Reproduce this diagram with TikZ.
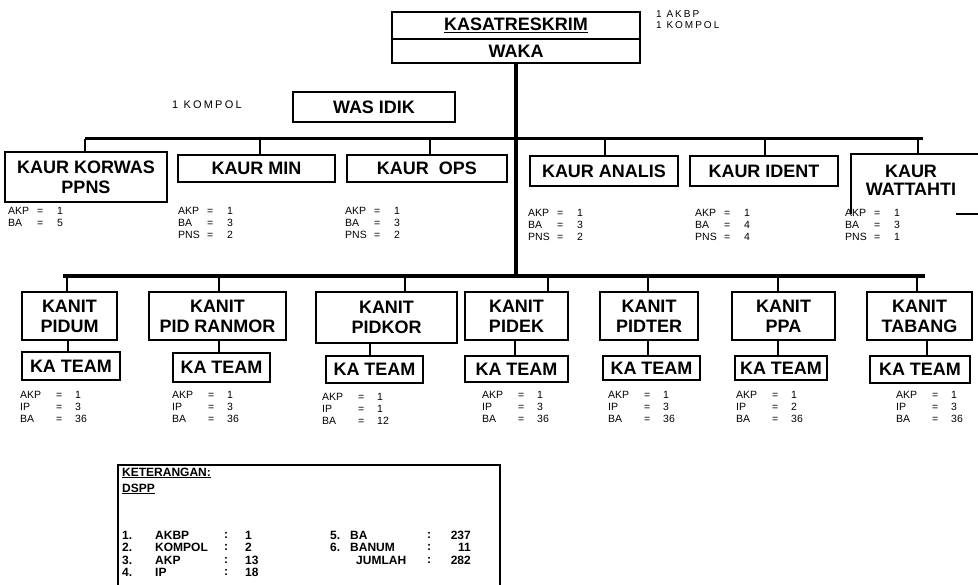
\documentclass[tikz,border=0pt]{standalone}
\usepackage{fontspec}
\setmainfont{Liberation Sans}
\newfontfamily\spaced[LetterSpace=20]{Liberation Sans}
\newcommand{\srow}[2]{\makebox[29pt][l]{#1}\makebox[20pt][l]{=}#2}
\newcommand{\brow}[2]{\makebox[36pt][l]{#1}\makebox[19pt][l]{=}#2}
\begin{document}
\begin{tikzpicture}[x=1pt,y=-1pt,
  box/.style={draw, line width=1.6pt, font=\fontsize{18}{20}\selectfont\bfseries, align=center, inner sep=0pt},
  thickbox/.style={box, line width=2.4pt},
  kt/.style={box, line width=2pt},
  staff/.style={anchor=north west, font=\fontsize{10.5}{12}\selectfont, align=left, inner sep=0pt},
  note/.style={anchor=west, font=\fontsize{11}{11}\selectfont\spaced, align=left, inner sep=0pt},
  leg/.style={anchor=west, font=\fontsize{12}{12}\selectfont\bfseries, inner sep=0pt},
  link/.style={line width=1.6pt},
  bar/.style={line width=3pt},
  mainbar/.style={line width=4pt}]
\useasboundingbox (0,0) rectangle (978,585);

% top
\node[box, minimum width=248pt, minimum height=27pt] (kasat) at (516,25.5) {\underline{KASATRESKRIM}};
\node[box, minimum width=248pt, minimum height=24pt] (waka) at (516,51) {WAKA};
\node[note, align=left, font=\fontsize{10}{11}\selectfont\spaced] (topnote) at (656,20) {1 AKBP\\1 KOMPOL};

\node[note] (kompol) at (172,105) {1 KOMPOL};
\node[box, minimum width=162pt, minimum height=30pt] (wasidik) at (374,107) {WAS IDIK};

% bars
\coordinate (ubL) at (85,139);
\coordinate (ubR) at (923,139);
\coordinate (lbL) at (63,276);
\coordinate (lbR) at (925,276);
\draw[mainbar] (waka.south) -- (waka.south |- lbL);
\draw[bar] (ubL) -- (ubR);
\draw[mainbar] (lbL) -- (lbR);

% KAUR row
\node[thickbox, minimum width=162pt, minimum height=50pt] (korwas) at (86,177) {KAUR KORWAS\\PPNS};
\node[box, minimum width=157pt, minimum height=27pt] (min) at (256.5,168.5) {KAUR MIN};
\node[box, minimum width=160pt, minimum height=27pt] (ops) at (427,168.5) {KAUR\ \ OPS};
\node[box, minimum width=148pt, minimum height=30pt] (analis) at (604,171) {KAUR ANALIS};
\node[box, minimum width=148pt, minimum height=30pt] (ident) at (764,171) {KAUR IDENT};
\node[box, draw=none, minimum width=118pt, minimum height=50pt, font=\fontsize{18}{18}\selectfont\bfseries] (watt) at (911,180) {KAUR\\WATTAHTI};
\draw[link] ([yshift=-8pt]watt.south west) -- (watt.north west) -- ++(130,0);
\draw[link] ([xshift=-15pt,yshift=-8pt]watt.south east) -- ++(25,0);

\draw[link] ([xshift=-1pt]korwas.north) -- ([xshift=-1pt]korwas.north |- ubL);
\draw[link] ([xshift=3.5pt]min.north) -- ([xshift=3.5pt]min.north |- ubL);
\draw[link] ([xshift=3pt]ops.north) -- ([xshift=3pt]ops.north |- ubL);
\draw[link] ([xshift=1pt]analis.north) -- ([xshift=1pt]analis.north |- ubL);
\draw[link] ([xshift=1pt]ident.north) -- ([xshift=1pt]ident.north |- ubL);
\draw[link] ([xshift=7pt]watt.north) -- ([xshift=7pt]watt.north |- ubR);

\node[staff] (s1) at (8,207) {\srow{AKP}{1}\\\srow{BA}{5}};
\node[staff] (s2) at (178,207) {\srow{AKP}{1}\\\srow{BA}{3}\\\srow{PNS}{2}};
\node[staff] (s3) at (345,207) {\srow{AKP}{1}\\\srow{BA}{3}\\\srow{PNS}{2}};
\node[staff] (s4) at (528,209) {\srow{AKP}{1}\\\srow{BA}{3}\\\srow{PNS}{2}};
\node[staff] (s5) at (695,209) {\srow{AKP}{1}\\\srow{BA}{4}\\\srow{PNS}{4}};
\node[staff] (s6) at (845,209) {\srow{AKP}{1}\\\srow{BA}{3}\\\srow{PNS}{1}};

% KANIT row
\node[box, minimum width=95pt, minimum height=48pt] (pidum) at (69.5,316) {KANIT\\PIDUM};
\node[box, minimum width=137pt, minimum height=48pt] (pidran) at (217.5,316) {KANIT\\PID RANMOR};
\node[box, minimum width=141pt, minimum height=51pt] (pidkor) at (386.5,317.5) {KANIT\\PIDKOR};
\node[box, minimum width=103pt, minimum height=48pt] (pidek) at (516.5,316) {KANIT\\PIDEK};
\node[box, minimum width=98pt, minimum height=48pt] (pidter) at (649,316) {KANIT\\PIDTER};
\node[box, minimum width=103pt, minimum height=48pt] (ppa) at (783.5,316) {KANIT\\PPA};
\node[box, minimum width=105pt, minimum height=48pt] (tabang) at (919.5,316) {KANIT\\TABANG};

\draw[link] ([xshift=-2.5pt]pidum.north) -- ([xshift=-2.5pt]pidum.north |- lbL);
\draw[link] ([xshift=1.5pt]pidran.north) -- ([xshift=1.5pt]pidran.north |- lbL);
\draw[link] ([xshift=18.5pt]pidkor.north) -- ([xshift=18.5pt]pidkor.north |- lbL);
\draw[link] ([xshift=31.5pt]pidek.north) -- ([xshift=31.5pt]pidek.north |- lbL);
\draw[link] ([xshift=-1pt]pidter.north) -- ([xshift=-1pt]pidter.north |- lbL);
\draw[link] ([xshift=-5.5pt]ppa.north) -- ([xshift=-5.5pt]ppa.north |- lbL);
\draw[link] ([xshift=-2.5pt]tabang.north) -- ([xshift=-2.5pt]tabang.north |- lbL);

% KA TEAM row
\node[kt, minimum width=98pt, minimum height=28pt] (kt1) at (71,366) {KA TEAM};
\node[kt, minimum width=97pt, minimum height=29pt] (kt2) at (221.5,367.5) {KA TEAM};
\node[kt, minimum width=97pt, minimum height=27pt] (kt3) at (374.5,369.5) {KA TEAM};
\node[kt, minimum width=103pt, minimum height=26pt] (kt4) at (516.5,369) {KA TEAM};
\node[kt, minimum width=97pt, minimum height=24pt] (kt5) at (651.5,368) {KA TEAM};
\node[kt, minimum width=92pt, minimum height=24pt] (kt6) at (781,368) {KA TEAM};
\node[kt, minimum width=100pt, minimum height=27pt] (kt7) at (920,369.5) {KA TEAM};

\draw[link] ([xshift=-3pt]kt1.north) -- ([xshift=-3pt]kt1.north |- pidum.south);
\draw[link] ([xshift=-2.5pt]kt2.north) -- ([xshift=-2.5pt]kt2.north |- pidran.south);
\draw[link] ([xshift=-4.5pt]kt3.north) -- ([xshift=-4.5pt]kt3.north |- pidkor.south);
\draw[link] ([xshift=-1.5pt]kt4.north) -- ([xshift=-1.5pt]kt4.north |- pidek.south);
\draw[link] ([xshift=-3.5pt]kt5.north) -- ([xshift=-3.5pt]kt5.north |- pidter.south);
\draw[link] ([xshift=-3pt]kt6.north) -- ([xshift=-3pt]kt6.north |- ppa.south);
\draw[link] ([xshift=7pt]kt7.north) -- ([xshift=7pt]kt7.north |- tabang.south);

\node[staff] (b1) at (20,391) {\brow{AKP}{1}\\\brow{IP}{3}\\\brow{BA}{36}};
\node[staff] (b2) at (172,391) {\brow{AKP}{1}\\\brow{IP}{3}\\\brow{BA}{36}};
\node[staff] (b3) at (322,393) {\brow{AKP}{1}\\\brow{IP}{1}\\\brow{BA}{12}};
\node[staff] (b4) at (482,391) {\brow{AKP}{1}\\\brow{IP}{3}\\\brow{BA}{36}};
\node[staff] (b5) at (608,391) {\brow{AKP}{1}\\\brow{IP}{3}\\\brow{BA}{36}};
\node[staff] (b6) at (736,391) {\brow{AKP}{1}\\\brow{IP}{2}\\\brow{BA}{36}};
\node[staff] (b7) at (896,391) {\brow{AKP}{1}\\\brow{IP}{3}\\\brow{BA}{36}};

% legend
\draw[line width=1.3pt] (118,590) -- (118,465) -- (500,465) -- (500,590);
\node[leg] (ket) at (122,473) {\underline{KETERANGAN:}};
\node[leg] (dspp) at (122,489) {\underline{DSPP}};
\foreach \n/\lab/\v [count=\i] in {1./AKBP/1, 2./KOMPOL/2, 3./AKP/13, 4./IP/18}{
  \node[leg] (ln\i) at (122,522.5+12.5*\i) {\n};
  \node[leg] (lt\i) at (155,522.5+12.5*\i) {\lab};
  \node[leg] (lc\i) at (224,522.5+12.5*\i) {:};
  \node[leg] (lv\i) at (245,522.5+12.5*\i) {\v};
}
\node[leg] (rn1) at (330,535) {5.};
\node[leg] (rt1) at (350,535) {BA};
\node[leg] (rn2) at (330,547.5) {6.};
\node[leg] (rt2) at (350,547.5) {BANUM};
\node[leg] (rt3) at (356,560) {JUMLAH};
\foreach \v/\y [count=\i] in {237/535, 11/547.5, 282/560}{
  \node[leg] (rc\i) at (427,\y) {:};
  \node[leg, anchor=east] (rv\i) at (471,\y) {\v};
}
\end{tikzpicture}
\end{document}
